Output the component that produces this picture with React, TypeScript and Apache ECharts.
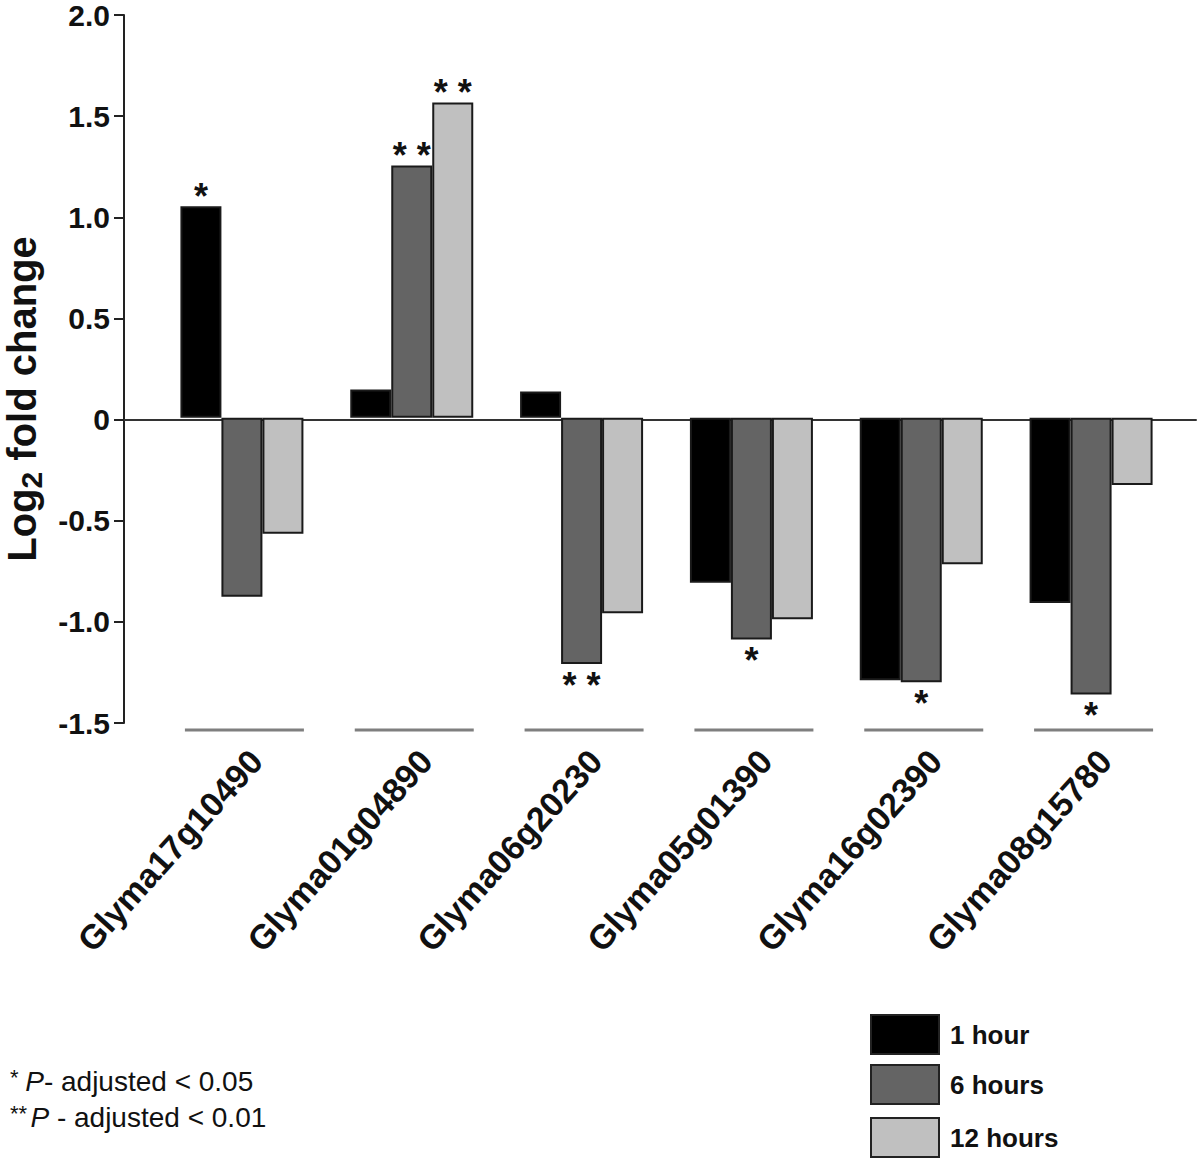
import React, { useEffect, useRef } from "react";
import * as echarts from "echarts";

const categories = [
  "Glyma17g10490",
  "Glyma01g04890",
  "Glyma06g20230",
  "Glyma05g01390",
  "Glyma16g02390",
  "Glyma08g15780",
];
const seriesNames = ["1 hour", "6 hours", "12 hours"];
const hour1 = [1.04, 0.14, 0.13, -0.81, -1.29, -0.91];
const hour6 = [-0.88, 1.24, -1.21, -1.09, -1.3, -1.36];
const hour12 = [-0.57, 1.55, -0.96, -0.99, -0.72, -0.33];
const sig1 = ["*", "", "", "", "", ""];
const sig6 = ["", "**", "**", "*", "*", "*"];
const sig12 = ["", "**", "", "", "", ""];
const yTicks = [-1.5, -1.0, -0.5, 0, 0.5, 1.0, 1.5, 2.0];

const FONT = "'Liberation Sans', Arial, Helvetica, sans-serif";
const colors = ["#000000", "#646464", "#c0c0c0"];

function barData(values: number[], sig: string[]) {
  return values.map((v, i) => ({
    value: v,
    label: {
      show: sig[i] !== "",
      position: v >= 0 ? "top" : "bottom",
      distance: v >= 0 ? -3 : 8,
      formatter: sig[i].split("").join(" "),
      fontSize: 36,
      fontWeight: "bold",
      fontFamily: FONT,
      color: "#111",
      lineHeight: 26,
    },
  }));
}

export default function App() {
  const ref = useRef<HTMLDivElement>(null);
  useEffect(() => {
    if (!ref.current) return;
    const chart = echarts.init(ref.current, null, { renderer: "svg" });
    const valuesList = [hour1, hour6, hour12];
    const sigList = [sig1, sig6, sig12];
    const yMin = yTicks[0];
    const yMax = yTicks[yTicks.length - 1];
    const labelAngle = (48 * Math.PI) / 180;
    const legendTops = [1014, 1064, 1117];
    const option: any = {
      animation: false,
      backgroundColor: "#ffffff",
      grid: [
        { left: 157, right: 24, top: 11, bottom: 437, containLabel: false },
        { left: 124, right: 4, top: 11, bottom: 437, containLabel: false },
      ],
      xAxis: [
        { type: "category", gridIndex: 0, data: categories, show: false },
        {
          type: "value",
          gridIndex: 1,
          min: 0,
          max: 1,
          axisLine: { show: true, onZero: true, lineStyle: { color: "#333", width: 2 } },
          axisTick: { show: false },
          axisLabel: { show: false },
          splitLine: { show: false },
        },
      ],
      yAxis: [
        { type: "value", gridIndex: 0, min: yMin, max: yMax, interval: 0.5, show: false },
        {
          type: "value",
          gridIndex: 1,
          min: yMin,
          max: yMax,
          interval: 0.5,
          axisLine: { show: true, lineStyle: { color: "#222", width: 2 } },
          axisTick: { show: true, length: 10, lineStyle: { color: "#222", width: 2 } },
          splitLine: { show: false },
          axisLabel: {
            margin: 14,
            fontSize: 30,
            lineHeight: 22,
            fontWeight: "bold",
            fontFamily: FONT,
            color: "#111",
            formatter: (v: number) => (v === 0 ? "0" : v.toFixed(1)),
          },
        },
      ],
      legend: seriesNames.map((n, i) => ({
        orient: "vertical",
        left: 870,
        top: legendTops[i],
        padding: 0,
        itemWidth: 68,
        itemHeight: 39,
        icon: "rect",
        selectedMode: false,
        textStyle: { fontSize: 26, fontWeight: "bold", fontFamily: FONT, color: "#111", padding: [0, 0, 0, 6] },
        data: [
          {
            name: n,
            itemStyle: { color: colors[i], borderColor: "#222", borderWidth: 2 },
          },
        ],
      })),
      series: [
        ...seriesNames.map((n, i) => ({
          type: "bar",
          name: n,
          xAxisIndex: 0,
          yAxisIndex: 0,
          barWidth: 41,
          barGap: "0%",
          itemStyle: { color: colors[i], borderColor: "#1a1a1a", borderWidth: 2 },
          data: barData(valuesList[i], sigList[i]),
          z: 3,
        })),
        {
          type: "custom",
          xAxisIndex: 0,
          yAxisIndex: 0,
          clip: false,
          silent: true,
          data: categories.map((c, i) => [i, yMin]),
          renderItem: (params: any, api: any) => {
            const idx = api.value(0);
            const pt = api.coord([idx, api.value(1)]);
            const cx = pt[0];
            const by = pt[1];
            return {
              type: "group",
              children: [
                {
                  type: "line",
                  shape: { x1: cx - 57, y1: by + 7, x2: cx + 62, y2: by + 7 },
                  style: { stroke: "#7f7f7f", lineWidth: 3 },
                },
                {
                  type: "text",
                  x: cx + 14,
                  y: by + 32,
                  rotation: labelAngle,
                  style: {
                    text: categories[idx],
                    fontSize: 34,
                    fontWeight: "bold",
                    fontFamily: FONT,
                    fill: "#111",
                    align: "right",
                    verticalAlign: "middle",
                  },
                },
              ],
            };
          },
          z: 2,
        },
      ],
      graphic: [
        {
          type: "text",
          x: 22,
          y: 399,
          rotation: Math.PI / 2,
          style: {
            text: "{a|Log}{s|2}{a| fold change}",
            align: "center",
            verticalAlign: "middle",
            rich: {
              a: {
                fontSize: 40,
                fontWeight: "bold",
                fontFamily: FONT,
                fill: "#111",
                lineHeight: 48,
                verticalAlign: "middle",
              },
              s: {
                fontSize: 30,
                fontWeight: "bold",
                fontFamily: FONT,
                fill: "#111",
                lineHeight: 30,
                verticalAlign: "bottom",
              },
            },
          },
        },
        {
          type: "text",
          left: 10,
          top: 1066,
          style: {
            text: "{s|*}  {p|P}{n|- adjusted < 0.05}",
            rich: {
              s: { fontSize: 22, fontFamily: FONT, fill: "#111", verticalAlign: "top", lineHeight: 30 },
              p: { fontSize: 28, fontStyle: "italic", fontFamily: FONT, fill: "#111", lineHeight: 30 },
              n: { fontSize: 28, fontFamily: FONT, fill: "#111", lineHeight: 30 },
            },
          },
        },
        {
          type: "text",
          left: 10,
          top: 1102,
          style: {
            text: "{s|**} {p|P}{n| - adjusted < 0.01}",
            rich: {
              s: { fontSize: 22, fontFamily: FONT, fill: "#111", verticalAlign: "top", lineHeight: 30 },
              p: { fontSize: 28, fontStyle: "italic", fontFamily: FONT, fill: "#111", lineHeight: 30 },
              n: { fontSize: 28, fontFamily: FONT, fill: "#111", lineHeight: 30 },
            },
          },
        },
      ],
    };
    chart.setOption(option);
    return () => chart.dispose();
  }, []);
  return (
    <div
      ref={ref}
      style={{ position: "absolute", left: 0, top: 0, width: 1200, height: 1160, background: "#fff" }}
    />
  );
}
